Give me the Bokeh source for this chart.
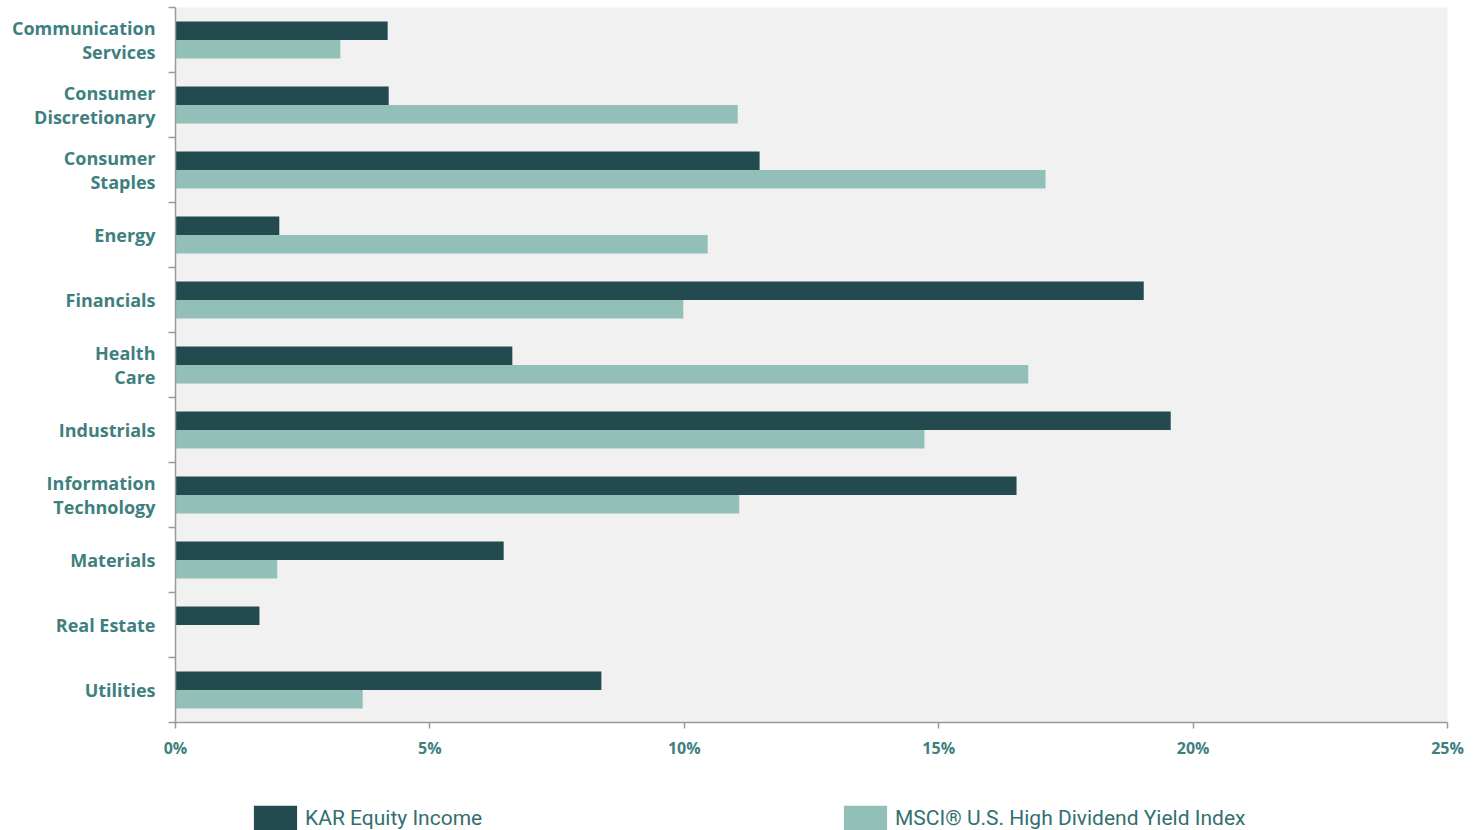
from bokeh.plotting import figure
from bokeh.models import (ColumnDataSource, FixedTicker, Legend, LegendItem,
                          NumeralTickFormatter, BoxAnnotation, Range1d)
from bokeh.embed import file_html
from bokeh.resources import INLINE

# Sector weights (%)
sectors = [
    "Communication\nServices",
    "Consumer\nDiscretionary",
    "Consumer\nStaples",
    "Energy",
    "Financials",
    "Health\nCare",
    "Industrials",
    "Information\nTechnology",
    "Materials",
    "Real Estate",
    "Utilities",
]
kar_equity_income = [4.17, 4.19, 11.48, 2.04, 19.03, 6.62, 19.56, 16.53, 6.45, 1.65, 8.37]
msci_high_dividend = [3.24, 11.05, 17.10, 10.46, 9.98, 16.76, 14.72, 11.08, 2.00, 0.0, 3.68]
x_ticks = [0, 5, 10, 15, 20, 25]

DARK = "#234a4e"
LIGHT = "#93bfb9"
LABEL = "#3e7f80"
AXIS = "#9a9a9a"
PANEL = "#f1f1f1"

n = len(sectors)
x_max = x_ticks[-1] / 100
# first sector at the top: band centre for sector i
centers = [n - i - 0.5 for i in range(n)]
offset = 0.142
bar_h = 0.284

src = ColumnDataSource(dict(
    kar=[v / 100 for v in kar_equity_income],
    msci=[v / 100 for v in msci_high_dividend],
    y_kar=[c + offset for c in centers],
    y_msci=[c - offset for c in centers],
))

# The frame covers the whole canvas; both axes are pinned to zero so that the
# tick labels and the legend all sit inside it. The shaded plot area only
# covers the sector bands.
W, H = 1482, 830
left_px, right_px, top_px = 175, 35, 7
band_px = 65
x_per_px = x_max / (W - left_px - right_px)
x_lo = -left_px * x_per_px
x_hi = x_max + right_px * x_per_px
y_hi = n + top_px / band_px
y_lo = y_hi - H / band_px

p = figure(
    frame_width=W, frame_height=H,
    x_range=Range1d(x_lo, x_hi), y_range=Range1d(y_lo, y_hi),
    output_backend="svg", toolbar_location=None,
    min_border=0,
)
p.background_fill_color = "white"
p.border_fill_color = "white"
p.outline_line_color = None
p.xgrid.visible = False
p.ygrid.visible = False

p.add_layout(BoxAnnotation(left=0, right=x_max, bottom=0, top=n,
                           fill_color=PANEL, fill_alpha=1, line_color=None,
                           level="underlay"))

r_kar = p.hbar(y="y_kar", right="kar", left=0, height=bar_h, source=src,
               fill_color=DARK, line_color=None)
r_msci = p.hbar(y="y_msci", right="msci", left=0, height=bar_h, source=src,
                fill_color=LIGHT, line_color=None)

# x axis, drawn along the bottom of the sector bands
xa = p.xaxis[0]
xa.fixed_location = 0
xa.bounds = (0, x_max)
xa.ticker = FixedTicker(ticks=[t / 100 for t in x_ticks])
xa.formatter = NumeralTickFormatter(format="0%")
xa.axis_line_color = AXIS
xa.axis_line_width = 1.5
xa.major_tick_line_color = AXIS
xa.major_tick_line_width = 1.5
xa.major_tick_in = 0
xa.major_tick_out = 6
xa.minor_tick_line_color = None
xa.major_label_standoff = 8
xa.major_label_text_font = "Open Sans"
xa.major_label_text_font_style = "bold"
xa.major_label_text_font_size = "16px"
xa.major_label_text_color = LABEL

# y axis at x = 0: labels at band centres, tick marks at band edges
ya = p.yaxis[0]
ya.fixed_location = 0
ya.bounds = (0, n)
ya.ticker = FixedTicker(ticks=centers, minor_ticks=list(range(n + 1)))
ya.major_label_overrides = {c: s for c, s in zip(centers, sectors)}
ya.axis_line_color = AXIS
ya.axis_line_width = 1.5
ya.major_tick_line_color = None
ya.major_tick_in = 0
ya.major_tick_out = 0
ya.minor_tick_line_color = AXIS
ya.minor_tick_line_width = 1.5
ya.minor_tick_in = 0
ya.minor_tick_out = 7
ya.major_label_standoff = 13
ya.major_label_text_font = "Open Sans"
ya.major_label_text_font_style = "bold"
ya.major_label_text_font_size = "18px"
ya.major_label_text_color = LABEL
ya.major_label_text_line_height = 1.0

legend = Legend(
    items=[
        LegendItem(label="KAR Equity Income", renderers=[r_kar]),
        LegendItem(label="MSCI® U.S. High Dividend Yield Index", renderers=[r_msci]),
    ],
    orientation="horizontal",
    location=(248, -4),
    glyph_width=54, glyph_height=32,
    label_standoff=3, label_width=533, spacing=0,
    padding=0, margin=0,
    border_line_color=None, background_fill_alpha=0,
    label_text_font="Roboto", label_text_font_size="21px",
    label_text_color="#336f70",
)
p.add_layout(legend, "center")

open("out.html", "w").write(file_html(p, INLINE))
